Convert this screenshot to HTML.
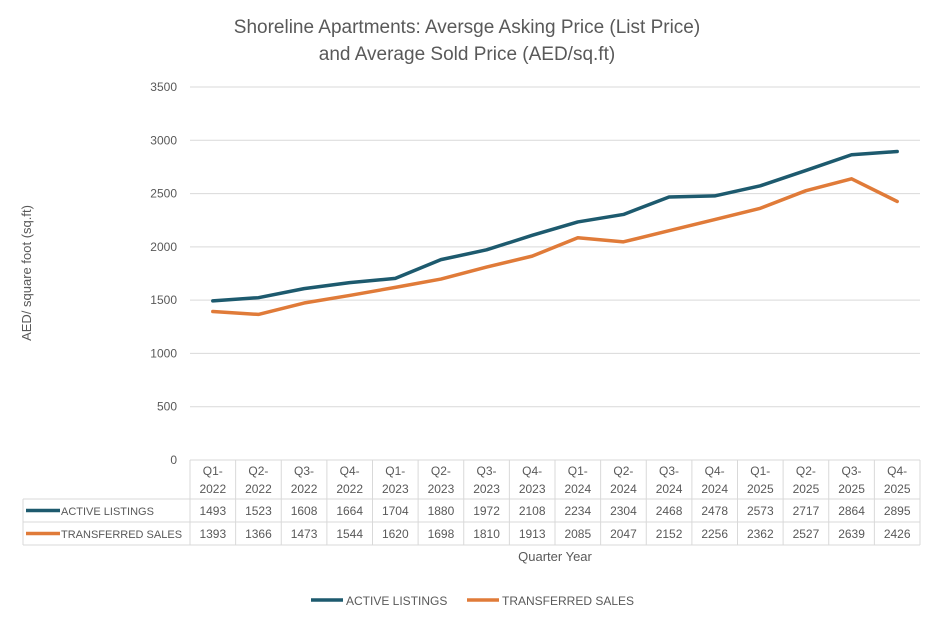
<!DOCTYPE html>
<html><head><meta charset="utf-8"><style>
body{margin:0;background:#fff;font-family:"Liberation Sans",sans-serif}
svg text{font-family:"Liberation Sans",sans-serif}
</style></head><body>
<svg width="935" height="622" viewBox="0 0 935 622" xmlns="http://www.w3.org/2000/svg" id="chart">
<text x="467" y="33" text-anchor="middle" font-size="19" fill="#595959">Shoreline Apartments: Aversge Asking Price (List Price)</text>
<text x="467" y="60" text-anchor="middle" font-size="19" fill="#595959">and Average Sold Price (AED/sq.ft)</text>
<text transform="translate(31,273) rotate(-90)" text-anchor="middle" font-size="13" fill="#595959">AED/ square foot (sq.ft)</text>
<text x="555" y="561" text-anchor="middle" font-size="13" fill="#595959">Quarter Year</text>
<g id="grid"></g><g id="table"></g><g id="series"></g>
<g>
<line x1="311" y1="600" x2="343" y2="600" stroke="#1D5A6E" stroke-width="3.5"/>
<text x="346" y="605" font-size="12" fill="#595959">ACTIVE LISTINGS</text>
<line x1="467" y1="600" x2="499" y2="600" stroke="#E07B39" stroke-width="3.5"/>
<text x="502" y="605" font-size="12" fill="#595959">TRANSFERRED SALES</text>
</g>
</svg>
<script>
const quarters=["Q1","Q2","Q3","Q4","Q1","Q2","Q3","Q4","Q1","Q2","Q3","Q4","Q1","Q2","Q3","Q4"];
const years=["2022","2022","2022","2022","2023","2023","2023","2023","2024","2024","2024","2024","2025","2025","2025","2025"];
const activeListings=[1493,1523,1608,1664,1704,1880,1972,2108,2234,2304,2468,2478,2573,2717,2864,2895];
const transferredSales=[1393,1366,1473,1544,1620,1698,1810,1913,2085,2047,2152,2256,2362,2527,2639,2426];
const yTicks=[0,500,1000,1500,2000,2500,3000,3500];
const NS="http://www.w3.org/2000/svg";
const L=190,R=920,T=87,B=460,yMax=3500;
const cw=(R-L)/quarters.length;
const xs=i=>L+cw*(i+0.5);
const ys=v=>B-(v/yMax)*(B-T);
function mk(tag,attrs,parent,txt){const e=document.createElementNS(NS,tag);for(const k in attrs)e.setAttribute(k,attrs[k]);if(txt!==undefined)e.textContent=txt;parent.appendChild(e);return e;}
const grid=document.getElementById('grid'),table=document.getElementById('table'),series=document.getElementById('series');
yTicks.forEach(v=>{
 if(v>0){const g=mk('line',{x1:L,x2:R,y1:ys(v),y2:ys(v),stroke:'#D9D9D9','stroke-width':1},grid);
 
 }
 const t=mk('text',{x:177,y:ys(v)+4,'text-anchor':'end','font-size':12,fill:'#595959'},grid,v);
 
 
});
const st={stroke:'#D9D9D9','stroke-width':1};
mk('line',Object.assign({x1:L,x2:R,y1:460,y2:460},st),table);
[499,522,545].forEach(y=>mk('line',Object.assign({x1:23,x2:R,y1:y,y2:y},st),table));
mk('line',Object.assign({x1:23,x2:23,y1:499,y2:545},st),table);
for(let i=0;i<=quarters.length;i++){const x=L+cw*i;mk('line',Object.assign({x1:x,x2:x,y1:460,y2:545},st),table);}
quarters.forEach((q,i)=>{
 const t=mk('text',{x:xs(i),y:475,'text-anchor':'middle','font-size':12,fill:'#595959'},table,q+'-');
 
 
 const t2=mk('text',{x:xs(i),y:493,'text-anchor':'middle','font-size':12,fill:'#595959'},table,years[i]);
 
 
 const a=mk('text',{x:xs(i),y:515,'text-anchor':'middle','font-size':12,fill:'#595959'},table,activeListings[i]);
 
 
 const b=mk('text',{x:xs(i),y:538,'text-anchor':'middle','font-size':12,fill:'#595959'},table,transferredSales[i]);
 
 
});
mk('line',{x1:26,x2:60,y1:510.5,y2:510.5,stroke:'#1D5A6E','stroke-width':3.5},table);
mk('line',{x1:26,x2:60,y1:533.5,y2:533.5,stroke:'#E07B39','stroke-width':3.5},table);
const h1=mk('text',{x:61,y:515,'font-size':11,fill:'#595959'},table,'ACTIVE LISTINGS');


const h2=mk('text',{x:61,y:538,'font-size':11,fill:'#595959'},table,'TRANSFERRED SALES');


function line(vals,color,name){
 const p=mk('polyline',{points:vals.map((v,i)=>xs(i)+','+ys(v)).join(' '),fill:'none',stroke:color,'stroke-width':3.5,'stroke-linejoin':'round','stroke-linecap':'round'},series);
 
 
}
line(transferredSales,'#E07B39','line-transferred-sales');
line(activeListings,'#1D5A6E','line-active-listings');
</script>
</body></html>
